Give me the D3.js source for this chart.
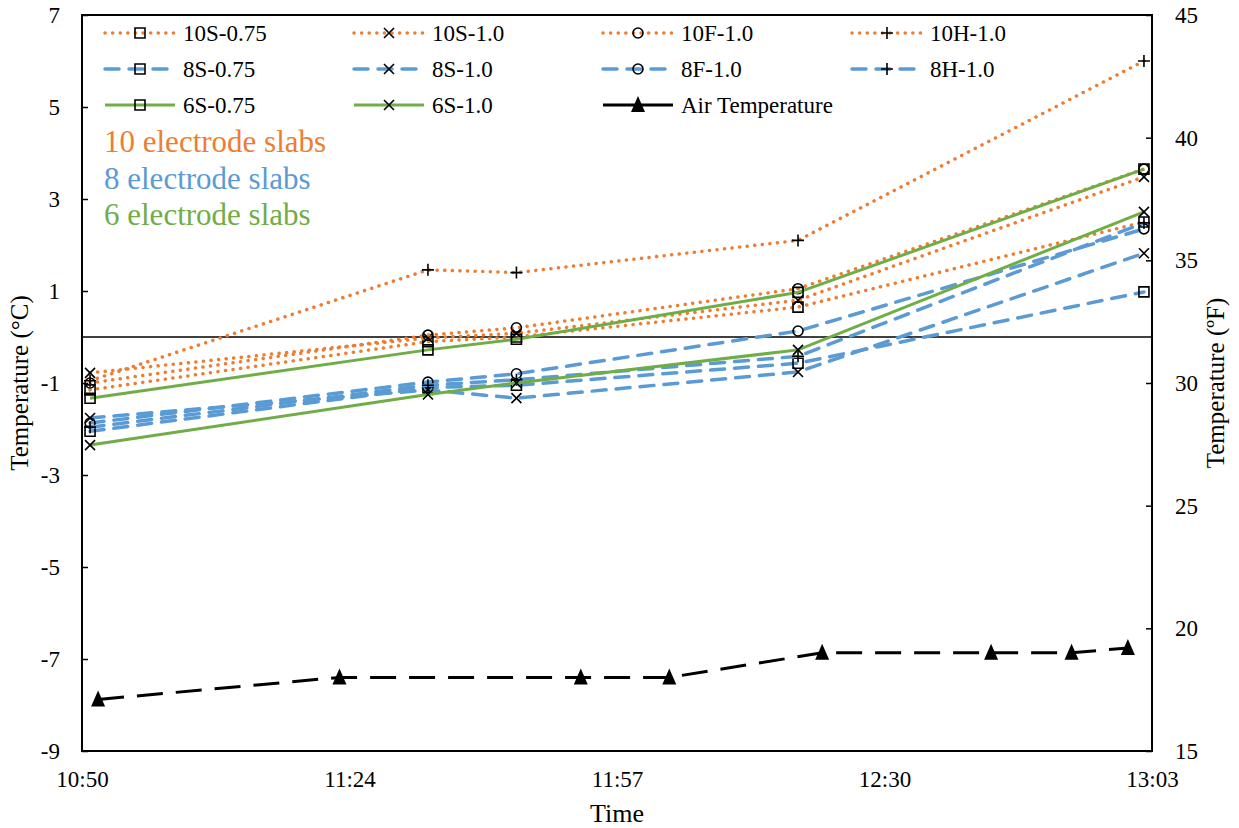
<!DOCTYPE html>
<html>
<head>
<meta charset="utf-8" />
<title>Slab temperature</title>
<script src="https://d3js.org/d3.v7.min.js"></script>
<style>
  body { margin: 0; background: #fff; }
  svg text { font-family: "Times New Roman", "Liberation Serif", Times, "DejaVu Serif", serif !important; fill: #000; }
</style>
</head>
<body>
<svg></svg>
<script>
// measurement times of the slabs and of the air
const slabTimes = ["10:51", "11:33", "11:44", "12:19", "13:02"];
const airTimes = ["10:52", "11:22", "11:52", "12:03", "12:22", "12:43", "12:53", "13:00"];

// slab temperatures, deg C
const s10S075 = [-1.15, -0.1, 0.0, 0.65, 2.5];
const s10S10 = [-0.78, -0.02, 0.08, 0.8, 3.48];
const s10F10 = [-1.0, 0.04, 0.2, 1.05, 3.65];
const s10H10 = [-0.95, 1.46, 1.4, 2.1, 6.0];
const s8S075 = [-2.05, -1.1, -1.05, -0.57, 0.98];
const s8S10 = [-1.76, -1.15, -1.33, -0.76, 1.82];
const s8F10 = [-1.87, -0.98, -0.8, 0.13, 2.35];
const s8H10 = [-1.96, -1.05, -0.93, -0.42, 2.48];
const s6S075 = [-1.33, -0.28, -0.05, 0.97, 3.65];
const s6S10 = [-2.35, -1.25, -1.0, -0.28, 2.72];

// air temperature, deg F (right axis)
const airTempF = [17.1, 18, 18, 18, 19, 19, 19, 19.2];

const xTickLabels = ["10:50", "11:24", "11:57", "12:30", "13:03"];
const yLeftTicks = [-9, -7, -5, -3, -1, 1, 3, 5, 7];
const yRightTicks = [15, 20, 25, 30, 35, 40, 45];
const groupLabels = ["10 electrode slabs", "8 electrode slabs", "6 electrode slabs"];

const orange = "#ED7D31", blue = "#5B9BD5", green = "#70AD47";
const styles = {
  dot: { color: orange, width: 3.5, dash: "0.1,7.5", cap: "round" },
  dash: { color: blue, width: 3.5, dash: "14,10", cap: "round" },
  solid: { color: green, width: 3, dash: null, cap: "butt" },
  air: { color: "#000", width: 3, dash: "26,13", cap: "butt" }
};

const series = [
  { name: "10S-0.75", values: s10S075, style: "dot", marker: "square" },
  { name: "10S-1.0", values: s10S10, style: "dot", marker: "x" },
  { name: "10F-1.0", values: s10F10, style: "dot", marker: "circle" },
  { name: "10H-1.0", values: s10H10, style: "dot", marker: "plus" },
  { name: "8S-0.75", values: s8S075, style: "dash", marker: "square" },
  { name: "8S-1.0", values: s8S10, style: "dash", marker: "x" },
  { name: "8F-1.0", values: s8F10, style: "dash", marker: "circle" },
  { name: "8H-1.0", values: s8H10, style: "dash", marker: "plus" },
  { name: "6S-0.75", values: s6S075, style: "solid", marker: "square" },
  { name: "6S-1.0", values: s6S10, style: "solid", marker: "x" }
];

const W = 1239, H = 828;
const L = 82, R = 1152, T = 15, B = 751;
const FONT = '"Times New Roman", "Liberation Serif", Times, serif';

function toMin(s) { const p = s.split(":"); return +p[0] * 60 + +p[1]; }

const svg = d3.select("svg").attr("width", W).attr("height", H);

const x = d3.scaleLinear().domain([toMin("10:50"), toMin("13:03")]).range([L, R]);
const yL = d3.scaleLinear().domain([-9, 7]).range([B, T]);
const yR = d3.scaleLinear().domain([15, 45]).range([B, T]);

// frame
svg.append("rect").attr("x", L).attr("y", T).attr("width", R - L).attr("height", B - T)
  .attr("fill", "none").attr("stroke", "#000").attr("stroke-width", 2);

// zero line
svg.append("line").attr("x1", L).attr("x2", R).attr("y1", yL(0)).attr("y2", yL(0))
  .attr("stroke", "#000").attr("stroke-width", 1.5);

// left axis
const axL = svg.append("g").attr("transform", `translate(${L},0)`)
  .call(d3.axisLeft(yL).tickValues(yLeftTicks).tickFormat(d => String(d))
    .tickSizeInner(-6).tickSizeOuter(0).tickPadding(22));
axL.attr("font-family", FONT).select(".domain").remove();
axL.selectAll("line").attr("stroke", "#000").attr("stroke-width", 1.5);
axL.selectAll("text").attr("font-size", 23);

// right axis
const axR = svg.append("g").attr("transform", `translate(${R},0)`)
  .call(d3.axisRight(yR).tickValues(yRightTicks).tickSizeInner(-6).tickSizeOuter(0).tickPadding(23));
axR.attr("font-family", FONT).select(".domain").remove();
axR.selectAll("line").attr("stroke", "#000").attr("stroke-width", 1.5);
axR.selectAll("text").attr("font-size", 23);

// bottom axis: evenly spaced Excel-style time ticks
const x0 = x.domain()[0], step = (x.domain()[1] - x.domain()[0]) / (xTickLabels.length - 1);
const axB = svg.append("g").attr("transform", `translate(0,${B})`)
  .call(d3.axisBottom(x).tickValues(xTickLabels.map((d, i) => x0 + i * step))
    .tickFormat((d, i) => xTickLabels[i]).tickSize(0).tickPadding(20));
axB.attr("font-family", FONT).select(".domain").remove();
axB.selectAll("text").attr("font-size", 23);

// axis titles
svg.append("text").attr("transform", `translate(28,${(T + B) / 2}) rotate(-90)`)
  .attr("text-anchor", "middle").attr("font-size", 25).text("Temperature (°C)");
svg.append("text").attr("transform", `translate(1224,${(T + B) / 2}) rotate(-90)`)
  .attr("text-anchor", "middle").attr("font-size", 25).text("Temperature (ºF)");
svg.append("text").attr("x", (L + R) / 2).attr("y", 822).attr("text-anchor", "middle")
  .attr("font-size", 26).text("Time");

function markerPath(type) {
  const s = 5;
  if (type === "square") return `M${-s},${-s}H${s}V${s}H${-s}Z`;
  if (type === "x") return `M${-s},${-s}L${s},${s}M${-s},${s}L${s},${-s}`;
  if (type === "plus") return `M${-s - 1},0H${s + 1}M0,${-s - 1}V${s + 1}`;
  if (type === "circle") return d3.arc()({ innerRadius: 0, outerRadius: s, startAngle: 0, endAngle: 2 * Math.PI });
  if (type === "tri") return "M0,-9L7,7L-7,7Z";
}

function styleLine(sel, st) {
  sel.attr("fill", "none").attr("stroke", st.color).attr("stroke-width", st.width)
    .attr("stroke-linecap", st.cap).attr("stroke-dasharray", st.dash);
}

const line = d3.line();

series.forEach(s => {
  const pts = s.values.map((v, i) => [x(toMin(slabTimes[i])), yL(v)]);
  svg.append("path").attr("d", line(pts)).call(styleLine, styles[s.style]);
  svg.append("g").selectAll("path").data(pts).join("path")
    .attr("transform", d => `translate(${d[0]},${d[1]})`)
    .attr("d", markerPath(s.marker))
    .attr("fill", "none").attr("stroke", "#000").attr("stroke-width", 1.6);
});

// air temperature on right axis
const airPts = airTempF.map((v, i) => [x(toMin(airTimes[i])), yR(v)]);
svg.append("path").attr("d", line(airPts)).call(styleLine, styles.air);
svg.append("g").selectAll("path").data(airPts).join("path")
  .attr("transform", d => `translate(${d[0]},${d[1]})`)
  .attr("d", markerPath("tri")).attr("fill", "#000");

// legend
const legendItems = series.map(s => ({ name: s.name, style: s.style, marker: s.marker }))
  .concat([{ name: "Air Temperature", style: "air", marker: "tri" }]);
const leg = svg.append("g");
legendItems.forEach((d, i) => {
  const col = i % 4, row = Math.floor(i / 4);
  const lx = 105 + col * 249, ly = 33 + row * 36;
  const st = d.style === "air" ? Object.assign({}, styles.air, { dash: null }) : styles[d.style];
  leg.append("line").attr("x1", lx).attr("x2", lx + 70).attr("y1", ly).attr("y2", ly).call(styleLine, st);
  const m = leg.append("path").attr("transform", `translate(${lx + 35},${ly})`).attr("d", markerPath(d.marker));
  if (d.marker === "tri") m.attr("fill", "#000");
  else m.attr("fill", "none").attr("stroke", "#000").attr("stroke-width", 1.6);
  leg.append("text").attr("x", lx + 78).attr("y", ly).attr("dy", "0.33em")
    .attr("font-size", 23).text(d.name);
});

// group labels
const groupColors = [orange, blue, green];
groupLabels.forEach((g, i) => {
  svg.append("text").attr("x", 104).attr("y", 152 + i * 36.5)
    .attr("font-size", 31).style("fill", groupColors[i]).text(g);
});
</script>
</body>
</html>
